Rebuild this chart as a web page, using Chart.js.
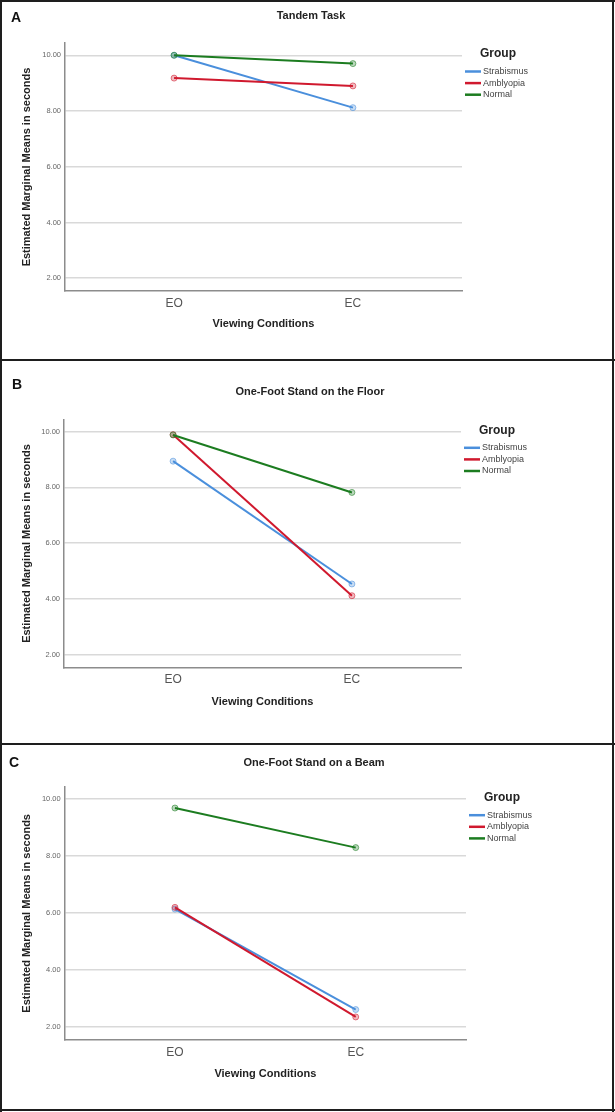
<!DOCTYPE html>
<html>
<head>
<meta charset="utf-8">
<script src="https://cdn.jsdelivr.net/npm/chart.js@4.4.0/dist/chart.umd.min.js"></script>
<style>
  body { margin: 0; background: #fff; }
  #page { position: relative; width: 615px; height: 1112px; overflow: hidden; background: #fff; }
  canvas { position: absolute; left: 0; }
  .rule { position: absolute; background: #1e1e1e; z-index: 2; }
</style>
</head>
<body>
<div id="page">
  <canvas id="chartA" width="615" height="360" style="top:0px"></canvas>
  <canvas id="chartB" width="615" height="384" style="top:360px"></canvas>
  <canvas id="chartC" width="615" height="368" style="top:744px"></canvas>

  <div class="rule" style="left:0;top:0;width:615px;height:2px"></div>
  <div class="rule" style="left:0;top:0;width:2px;height:1112px"></div>
  <div class="rule" style="left:612px;top:0;width:2px;height:1112px"></div>
  <div class="rule" style="left:0;top:359px;width:615px;height:2px"></div>
  <div class="rule" style="left:0;top:743px;width:615px;height:2px"></div>
  <div class="rule" style="left:0;top:1109px;width:615px;height:2px"></div>
</div>

<script>
// data
const conditions = ['EO', 'EC'];
const groups = ['Strabismus', 'Amblyopia', 'Normal'];
const yTicks = [2, 4, 6, 8, 10];

const tandemStrabismus = [10.0, 8.12];
const tandemAmblyopia = [9.18, 8.90];
const tandemNormal = [10.0, 9.70];

const floorStrabismus = [8.94, 4.54];
const floorAmblyopia = [9.89, 4.12];
const floorNormal = [9.88, 7.82];

const beamStrabismus = [6.14, 2.61];
const beamAmblyopia = [6.20, 2.35];
const beamNormal = [9.69, 8.30];

// styles
const FONT = '"Liberation Sans", Arial, sans-serif';
const lineColors = ['#4a8fdc', '#d0192e', '#1c7c20'];
const pointFills = ['rgba(74,143,220,0.3)', 'rgba(208,25,46,0.3)', 'rgba(28,124,32,0.3)'];
const pointEdges = ['rgba(74,143,220,0.55)', 'rgba(208,25,46,0.55)', 'rgba(28,124,32,0.55)'];

Chart.defaults.font.family = FONT;

// panel letter, title and the "Group" legend
const panelDecor = {
  id: 'panelDecor',
  afterDraw(chart, args, opts) {
    const ctx = chart.ctx;
    const area = chart.chartArea;
    ctx.save();
    ctx.fillStyle = '#111';
    ctx.textBaseline = 'middle';
    ctx.textAlign = 'center';
    ctx.font = 'bold 14px ' + FONT;
    ctx.fillText(opts.letter, opts.letterX, opts.letterY);
    ctx.fillStyle = '#222';
    ctx.font = 'bold 11px ' + FONT;
    ctx.fillText(opts.title, opts.titleX, opts.titleY);

    const lx = area.right + 3;
    ctx.textAlign = 'left';
    ctx.font = 'bold 12px ' + FONT;
    ctx.fillStyle = '#222';
    ctx.fillText('Group', lx + 15, area.top + 11);
    ctx.font = '9px ' + FONT;
    chart.data.datasets.forEach((ds, i) => {
      const y = area.top + 28.5 + i * 11.6;
      ctx.strokeStyle = ds.borderColor;
      ctx.lineWidth = 2.5;
      ctx.beginPath();
      ctx.moveTo(lx, y);
      ctx.lineTo(lx + 16, y);
      ctx.stroke();
      ctx.fillStyle = '#444';
      ctx.fillText(ds.label, lx + 18, y);
    });
    ctx.restore();
  }
};

function makeChart(id, title, letter, series, box) {
  return new Chart(document.getElementById(id), {
    type: 'line',
    data: {
      datasets: series.map((vals, i) => ({
        label: groups[i],
        data: vals.map((v, j) => ({ x: j, y: v })),
        borderColor: lineColors[i],
        borderWidth: 2,
        pointRadius: 3,
        pointBackgroundColor: pointFills[i],
        pointBorderColor: pointEdges[i],
        pointBorderWidth: 1,
        order: 2 - i
      }))
    },
    options: {
      responsive: false,
      animation: false,
      devicePixelRatio: 1,
      layout: { padding: { top: box.top, right: 615 - box.right, bottom: 0, left: 0 } },
      plugins: {
        legend: { display: false },
        tooltip: { enabled: false },
        panelDecor: {
          letter: letter, letterX: box.letterX, letterY: box.letterY,
          title: title, titleX: box.titleX, titleY: box.titleY
        }
      },
      scales: {
        x: {
          type: 'linear',
          min: -0.61,
          max: 1.61,
          afterBuildTicks: s => { s.ticks = conditions.map((c, i) => ({ value: i })); },
          afterFit: s => { s.height = box.h - box.bottom; },
          ticks: {
            callback: v => conditions[v],
            font: { size: 12 },
            color: '#555',
            padding: 5,
            maxRotation: 0,
            autoSkip: false
          },
          grid: { display: false, drawTicks: false },
          border: { color: '#8c8c8c', width: 1.5 },
          title: {
            display: true,
            text: 'Viewing Conditions',
            font: { size: 11, weight: 'bold' },
            color: '#222',
            padding: { top: 0, bottom: box.h - box.xTitleY - 6.6 }
          }
        },
        y: {
          min: 1.54,
          max: 10.44,
          afterBuildTicks: s => { s.ticks = yTicks.map(v => ({ value: v })); },
          afterFit: s => { s.width = box.left; },
          ticks: {
            callback: v => v.toFixed(2),
            font: { size: 7.5 },
            color: '#666',
            padding: 4
          },
          grid: { color: '#d9d9d9', lineWidth: 1.5, drawTicks: false },
          border: { color: '#8c8c8c', width: 1.5 },
          title: {
            display: true,
            text: 'Estimated Marginal Means in seconds',
            font: { size: 11, weight: 'bold' },
            color: '#222',
            padding: { top: 20.4, bottom: 0 }
          }
        }
      }
    },
    plugins: [panelDecor]
  });
}

makeChart('chartA', 'Tandem Task', 'A',
  [tandemStrabismus, tandemAmblyopia, tandemNormal],
  { h: 360, left: 65, right: 462, top: 43, bottom: 291, xTitleY: 324,
    letterX: 16, letterY: 18, titleX: 311, titleY: 16 });

makeChart('chartB', 'One-Foot Stand on the Floor', 'B',
  [floorStrabismus, floorAmblyopia, floorNormal],
  { h: 384, left: 64, right: 461, top: 59.3, bottom: 307.7, xTitleY: 342,
    letterX: 17, letterY: 25, titleX: 310, titleY: 32 });

makeChart('chartC', 'One-Foot Stand on a Beam', 'C',
  [beamStrabismus, beamAmblyopia, beamNormal],
  { h: 368, left: 64.7, right: 466, top: 42.7, bottom: 296, xTitleY: 330,
    letterX: 14, letterY: 19, titleX: 314, titleY: 19 });
</script>
</body>
</html>
